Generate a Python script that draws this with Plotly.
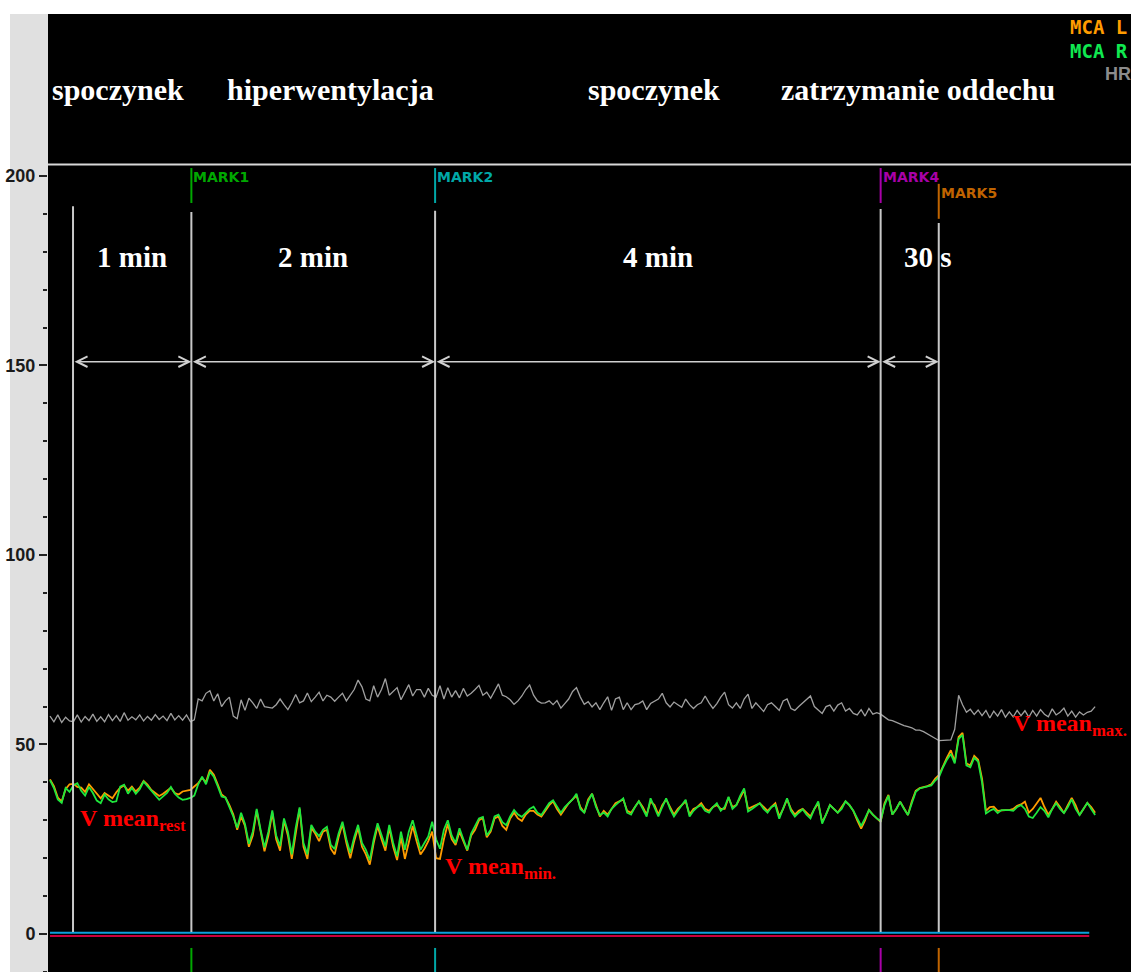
import numpy as np
import plotly.graph_objects as go

# ---------------------------------------------------------------- data
DT = 2.0  # seconds between samples

# MCA R (green) mean velocity, cm/s
MCA_R = [
    40.6, 38.5, 35.5, 34.6, 38.5, 37.5, 39.2, 39.8, 37.8, 36.5, 38.8, 37.2, 35.2, 34.5, 36.8, 35.5,
    34.8, 35.0, 38.9, 39.4, 37.0, 38.5, 37.0, 38.2, 40.2, 39.0, 37.5, 36.6, 35.4, 36.3, 37.2, 38.8,
    37.0, 36.0, 35.4, 35.6, 35.9,
    36.5, 39.5, 41.5, 39.5, 42.8, 41.5, 39.0, 36.3, 36.0, 33.6, 31.0, 28.0, 32.0,
    29.0, 23.8, 27.0, 33.0, 27.5, 22.8, 27.0, 32.6, 26.0, 23.2,
    30.5, 27.0, 21.0, 28.0, 33.4, 24.0, 21.0, 28.8, 27.0, 25.8,
    27.5, 28.3, 23.5, 22.4, 26.5, 29.6, 25.0, 21.4, 25.5, 28.8,
    24.0, 22.2, 19.5, 25.0, 29.2, 26.0, 23.1, 28.8, 24.0, 20.5,
    27.0, 22.2, 27.0, 30.0, 26.0, 22.2, 24.0, 25.7, 29.6, 25.0,
    22.5, 27.5, 30.0, 26.0, 24.0, 27.9, 25.0, 22.2, 26.5, 28.5,
    30.5, 30.9, 26.0, 27.5, 31.0, 31.5, 29.5, 28.7, 31.0, 32.7,
    31.5, 30.9, 32.0, 33.0, 33.6, 32.0, 31.4, 33.0, 34.5, 35.3,
    33.5, 32.0, 33.5, 34.4, 35.5, 37.0, 33.0, 32.0, 35.0, 37.0,
    33.5, 31.4,
    32.0, 31.0, 33.0, 34.0, 35.0, 35.8, 32.0, 31.5, 33.5, 35.0,
    33.0, 31.0, 35.8, 33.5, 31.0, 33.5, 35.8, 33.0, 31.0, 32.5,
    34.0, 35.4, 31.0, 32.5, 33.5, 34.0, 32.5, 32.0, 33.5, 34.5,
    32.5, 33.5, 36.2, 33.0, 34.0, 36.5, 38.4, 32.3, 33.0, 33.8,
    34.5, 33.0, 32.0, 33.5, 34.0, 30.4, 33.0, 35.8, 32.5, 31.0,
    32.0, 32.9, 31.5, 30.5, 33.0, 35.0, 29.1, 31.5, 34.0, 33.0,
    32.0,
    33.0, 35.0, 34.0, 32.5, 30.5, 28.5, 30.5, 32.7, 31.5, 30.5,
    29.8, 34.0, 36.5, 31.5, 33.0, 34.9, 33.0, 31.4, 34.5, 37.5,
    38.4, 38.6, 38.8, 39.2, 40.5, 41.5, 44.0, 46.0, 47.5, 45.0,
    51.5, 52.5, 44.5, 44.0, 46.5, 45.5, 40.0, 31.8, 32.5, 33.0,
    31.9, 32.7, 32.7, 32.7, 32.5, 33.5, 34.0, 33.0, 31.0, 30.6,
    32.0, 33.5, 32.5, 30.8, 33.0, 34.5, 33.0, 31.9, 33.5, 35.5,
    33.0, 31.4, 33.0, 34.6, 33.0, 31.4,
]

# MCA L (orange) mean velocity, cm/s
MCA_L = [
    40.8, 39.0, 36.0, 35.0, 38.2, 39.5, 39.6, 38.8, 38.6, 37.5, 39.5, 38.2, 36.8, 35.8, 37.2, 36.4,
    35.8, 37.4, 38.6, 39.2, 37.8, 38.9, 37.6, 38.6, 40.4, 39.4, 38.0, 37.2, 36.4, 37.0, 37.8, 38.6,
    37.2, 36.8, 37.6, 37.8, 38.0,
    38.9, 39.8, 41.2, 40.0, 43.3, 42.0, 39.5, 36.8, 36.0, 34.0, 31.5, 27.5, 31.0,
    28.5, 23.0, 26.0, 32.5, 27.0, 21.8, 26.0, 32.0, 25.0, 22.0,
    30.0, 26.0, 19.8, 27.0, 33.0, 23.0, 19.8, 28.0, 26.5, 24.5,
    27.0, 27.5, 22.5, 21.0, 25.5, 29.0, 24.0, 20.0, 24.5, 28.0,
    23.0, 21.0, 18.3, 24.0, 28.5, 25.0, 22.0, 28.0, 23.0, 19.5,
    25.5, 19.8, 24.5, 28.5, 24.5, 21.0, 22.5, 24.5, 27.0, 20.0,
    19.8, 25.0, 29.0, 25.0, 23.5, 27.0, 24.5, 22.0, 26.0, 27.5,
    30.0, 30.6, 25.5, 27.0, 30.5, 31.0, 28.5, 27.5, 30.5, 32.0,
    30.5, 29.8, 31.5, 32.5, 32.5, 31.5, 31.0, 32.5, 34.0, 35.0,
    33.0, 31.5, 33.0, 34.5, 35.5, 36.5, 33.5, 32.0, 35.5, 37.0,
    34.0, 31.0,
    32.5, 31.5, 33.0, 34.5, 35.0, 35.5, 32.5, 32.0, 33.5, 35.0,
    33.5, 31.5, 35.0, 34.0, 31.5, 34.0, 35.5, 33.5, 31.5, 33.0,
    34.0, 35.0, 31.5, 33.0, 33.5, 34.5, 33.0, 32.5, 33.5, 34.0,
    33.0, 33.0, 36.0, 33.5, 34.0, 36.0, 38.0, 33.0, 33.5, 34.0,
    34.5, 33.5, 32.5, 33.5, 34.5, 31.0, 33.0, 35.5, 33.0, 31.5,
    32.5, 33.0, 32.0, 31.0, 33.0, 34.5, 29.5, 31.5, 34.0, 33.0,
    32.0,
    33.5, 35.0, 34.0, 32.5, 30.0, 27.8, 30.0, 32.7, 31.5, 30.5,
    29.6, 34.5, 36.7, 31.5, 33.0, 34.9, 33.0, 31.4, 35.0, 37.8,
    38.5, 38.7, 39.0, 39.5, 41.0, 42.0, 44.5, 46.5, 48.5, 45.5,
    52.0, 53.1, 45.0, 44.5, 47.0, 46.0, 41.0, 32.5, 33.5, 33.6,
    32.5, 32.7, 32.7, 32.7, 33.0, 33.8, 34.2, 34.9, 32.0, 33.0,
    34.5, 35.9, 33.5, 31.5, 33.0, 34.9, 33.5, 31.9, 34.0, 35.9,
    34.0, 31.4, 33.0, 34.6, 33.5, 32.0,
]

# heart rate, beats/min
HR = [
    57.5, 56.0, 57.8, 55.8, 57.2, 56.2, 56.0, 57.8, 55.9, 57.4, 56.3, 58.0, 56.1, 57.3, 56.0, 57.9,
    56.3, 57.6, 56.1, 58.4, 56.4, 57.3, 56.5, 57.8, 56.2, 57.4, 56.4, 57.9, 56.6, 57.5, 56.3, 58.2,
    56.5, 57.6, 56.4, 57.8, 56.0,
    56.5, 62.0, 61.5, 63.5, 64.2, 61.5, 63.4, 60.0, 61.5, 62.5, 57.5, 56.8, 61.8,
    59.0, 62.2, 61.0, 59.5, 62.0, 60.0, 59.8, 59.6, 60.5, 62.0,
    60.5, 59.2, 61.0, 63.2, 61.0, 61.5, 63.6, 61.3, 62.5, 63.8,
    61.5, 63.0, 62.5, 61.4, 62.5, 63.5, 61.5, 63.0, 64.5, 67.0,
    65.2, 62.0, 61.5, 65.5, 62.5, 64.5, 67.4, 63.0, 64.0, 65.0,
    61.8, 64.0, 65.8, 62.8, 64.5, 64.5, 62.5, 64.8, 63.0, 62.5,
    65.5, 62.0, 65.0, 62.5, 64.2, 62.3, 64.8, 62.8, 63.5, 64.5,
    65.6, 63.0, 63.8, 62.2, 64.0, 66.0, 63.0, 62.6, 61.8, 60.6,
    61.5, 62.8, 64.5, 65.7, 63.0, 61.5, 60.9, 61.0, 61.5, 60.5,
    61.6, 59.6, 60.8, 62.0, 64.0, 65.0, 62.5, 60.6, 61.3, 59.9,
    61.0, 59.2, 61.0, 62.6, 59.0, 62.0, 62.5, 59.2, 61.0, 59.2,
    60.5, 60.8, 61.5, 59.2, 60.8, 61.4, 62.0, 63.5, 61.0, 59.9,
    61.2, 60.5, 59.8, 62.0, 60.5, 59.5, 60.5, 61.0, 62.8, 61.0,
    59.5, 60.8, 62.5, 63.8, 60.5, 59.6, 61.0, 59.5, 62.0, 63.3,
    59.5, 61.0, 59.8, 58.7, 60.5, 61.0, 60.0, 59.0, 61.5, 62.0,
    59.5, 59.0, 60.0, 60.9, 61.8, 62.8, 60.0, 59.0, 58.2, 60.0,
    60.4, 58.8, 60.4,
    61.0, 58.8, 59.5, 58.2, 57.8, 59.2, 57.5, 59.5, 58.0, 58.4,
    58.0, 57.2, 56.5, 56.3, 55.8, 55.5, 55.0, 54.7, 54.4, 53.8,
    53.8, 53.4, 52.8, 52.2, 51.4, 51.0, 51.1, 51.2, 51.2, 54.0,
    63.0, 60.5, 58.5, 59.3, 57.9, 59.1, 57.6, 59.0, 57.0, 58.8,
    57.5, 59.2, 57.2, 58.6, 57.3, 59.0, 57.6, 58.9, 57.2, 59.0,
    57.5, 59.2, 58.0, 57.3, 59.4, 57.8, 58.5, 59.6, 57.5, 58.8,
    57.2, 58.6, 57.8, 58.5, 58.8, 60.0,
]

# flat auxiliary channels along the baseline
AUX_TIME = [0.0, 533.0]
AUX_BLUE = [0.3, 0.3]
AUX_RED = [-0.5, -0.5]

# event marks (s)
MARK_NAMES = ["MARK1", "MARK2", "MARK4", "MARK5"]
MARK_TIMES = [72.5, 197.5, 426.0, 455.8]
MARK_COLORS = ["#00a800", "#00a8a8", "#a800a8", "#c06400"]

# phase boundaries and phase names
PHASE_BOUNDS = [11.8, 72.5, 197.5, 426.0, 455.8]
PHASE_TOPS = [192.0, 190.5, 190.8, 191.3, 187.6]
DURATIONS = ["1 min", "2 min", "4 min", "30 s"]
PHASE_NAMES = ["spoczynek", "hiperwentylacja", "spoczynek", "zatrzymanie oddechu"]
PHASE_NAME_X = [35.0, 143.6, 309.7, 445.0]

VMEAN_LABELS = ["rest", "min.", "max."]
VMEAN_X = [14.5, 201.5, 493.0]
VMEAN_Y = [34.6, 22.0, 59.6]

# ---------------------------------------------------------------- figure
fig = go.Figure()

t_l = np.arange(len(MCA_L)) * DT
t_r = np.arange(len(MCA_R)) * DT
t_h = np.arange(len(HR)) * DT

fig.add_trace(go.Scatter(x=AUX_TIME, y=AUX_RED, mode="lines",
                         line=dict(color="#c8003c", width=2), hoverinfo="skip"))
fig.add_trace(go.Scatter(x=AUX_TIME, y=AUX_BLUE, mode="lines",
                         line=dict(color="#0aa0dc", width=2), hoverinfo="skip"))
fig.add_trace(go.Scatter(x=t_h, y=HR, mode="lines", name="HR",
                         line=dict(color="#a0a0a0", width=1.3)))
fig.add_trace(go.Scatter(x=t_l, y=MCA_L, mode="lines", name="MCA L",
                         line=dict(color="#ff9c00", width=1.8)))
fig.add_trace(go.Scatter(x=t_r, y=MCA_R, mode="lines", name="MCA R",
                         line=dict(color="#1ee63c", width=1.8)))

shapes = []
annotations = []

# grey panel left of the plot
shapes.append(dict(type="rect", xref="paper", yref="paper", x0=-0.0351, x1=0, y0=0, y1=1,
                   fillcolor="#e0e0e0", line=dict(width=0), layer="below"))
# header separator
shapes.append(dict(type="line", xref="paper", yref="paper", x0=0, x1=1, y0=0.8429, y1=0.8429,
                   line=dict(color="#d8d8d8", width=2)))

# phase boundary lines
for tb, top in zip(PHASE_BOUNDS, PHASE_TOPS):
    shapes.append(dict(type="line", xref="x", yref="y", x0=tb, x1=tb, y0=0.5, y1=top,
                       line=dict(color="#c8c8c8", width=2)))

# event marks: top tick + label, bottom tick
for name, tm, col in zip(MARK_NAMES, MARK_TIMES, MARK_COLORS):
    drop = 0.0165 if name == "MARK5" else 0.0
    shapes.append(dict(type="line", xref="x", yref="paper", x0=tm, x1=tm,
                       y0=0.8027 - drop, y1=0.8392 - drop, line=dict(color=col, width=2)))
    shapes.append(dict(type="line", xref="x", yref="paper", x0=tm, x1=tm,
                       y0=0.0, y1=0.0251, line=dict(color=col, width=2)))
    annotations.append(dict(x=tm, y=0.8299 - drop, xref="x", yref="paper", text=name,
                            showarrow=False, xanchor="left", yanchor="middle", xshift=0,
                            font=dict(family="DejaVu Sans", size=14, color=col, weight="bold")))

# duration arrows and labels
for i in range(len(PHASE_BOUNDS) - 1):
    a, b = PHASE_BOUNDS[i], PHASE_BOUNDS[i + 1]
    annotations.append(dict(x=b, y=151.0, ax=a, ay=151.0, xref="x", yref="y",
                            axref="x", ayref="y", text="", showarrow=True,
                            arrowhead=5, arrowside="end+start", arrowsize=1.4,
                            arrowwidth=1.5, arrowcolor="#d0d0d0"))
    annotations.append(dict(x=(a + b) / 2, y=178.6, xref="x", yref="y", text=DURATIONS[i],
                            showarrow=False, xanchor="center", yanchor="middle",
                            xshift=18 if i == 3 else 0,
                            font=dict(family="Liberation Serif", size=29, color="white",
                                      weight="bold")))

# phase names in the header
for name, xn in zip(PHASE_NAMES, PHASE_NAME_X):
    annotations.append(dict(x=xn, y=0.921, xref="x", yref="paper", text=name,
                            showarrow=False, xanchor="center", yanchor="middle",
                            font=dict(family="Liberation Serif", size=30, color="white",
                                      weight="bold")))

# channel legend
for txt, yy, col in [("MCA L", 0.986, "#ff9c00"), ("MCA R", 0.9614, "#10e850")]:
    annotations.append(dict(x=0.9418, y=yy, xref="paper", yref="paper", text=txt,
                            showarrow=False, xanchor="left", yanchor="middle",
                            font=dict(family="DejaVu Sans Mono", size=19, color=col,
                                      weight="bold")))
annotations.append(dict(x=0.9745, y=0.9374, xref="paper", yref="paper", text="<b>HR</b>",
                        showarrow=False, xanchor="left", yanchor="middle",
                        font=dict(family="Liberation Sans", size=18, color="#8c8c8c")))

# V mean labels
for lab, xv, yv in zip(VMEAN_LABELS, VMEAN_X, VMEAN_Y):
    annotations.append(dict(x=xv, y=yv, xref="x", yref="y",
                            text="<b>V mean<sub>" + lab + "</sub></b>",
                            showarrow=False, xanchor="left", yanchor="top",
                            font=dict(family="Liberation Serif", size=24, color="#ff0000")))

major = [0, 50, 100, 150, 200]
minor_vals = [v for v in range(-10, 200, 10) if v not in major]

fig.update_layout(
    width=1131, height=972,
    margin=dict(l=48, r=0, t=14, b=0),
    paper_bgcolor="white",
    plot_bgcolor="black",
    showlegend=False,
    shapes=shapes,
    annotations=annotations,
    xaxis=dict(range=[-1.03, 554.4], visible=False, fixedrange=True),
    yaxis=dict(range=[-10.03, 242.74], tickmode="array", tickvals=major,
               ticktext=["<b>%d</b>" % v for v in major],
               ticks="outside", ticklen=8, tickwidth=2, tickcolor="#222222",
               showgrid=False, zeroline=False, showline=False,
               tickfont=dict(family="Liberation Sans", size=18, color="#1a1a1a"),
               minor=dict(tickmode="array", tickvals=minor_vals, ticks="outside",
                          ticklen=4, tickwidth=1.5, tickcolor="#222222", showgrid=False)),
)

fig.write_html("out.html")
